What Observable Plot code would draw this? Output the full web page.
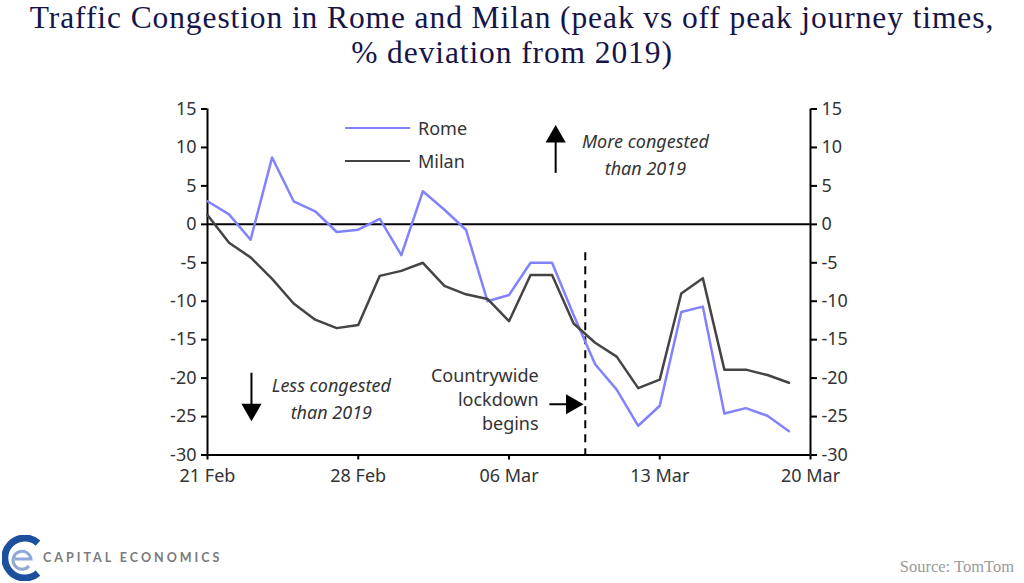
<!DOCTYPE html>
<html>
<head>
<meta charset="utf-8">
<script src="https://cdn.jsdelivr.net/npm/d3@7"></script>
<script src="https://cdn.jsdelivr.net/npm/@observablehq/plot@0.6"></script>
<style>
  html, body { margin: 0; padding: 0; background: #fff; }
  #wrap { position: relative; width: 1024px; height: 583px; overflow: hidden; background: #fff; }
  #title { position: absolute; left: 0; top: 0; width: 1024px; text-align: center;
    font-family: "Liberation Serif", serif; font-size: 31.5px; letter-spacing: 0.9px; line-height: 35px; color: #15154a; padding-top: 0px; }
  #chart { position: absolute; left: 0; top: 90px; }
  #legend { position: absolute; left: 345px; top: 111px; font-family: "Noto Sans", sans-serif; font-size: 18px; color: #333; }
  #legend div { display: flex; align-items: center; height: 33px; }
  #legend span.sw { display: inline-block; width: 65px; height: 0; border-top: 2.5px solid; margin-right: 8px; }
  #source { position: absolute; right: 10px; top: 557px; font-family: "Liberation Serif", serif; font-size: 16.5px; color: #9a9a9a; }
  #logo { position: absolute; left: 2px; top: 535px; }
</style>
</head>
<body>
<div id="wrap">
  <div id="title">Traffic Congestion in Rome and Milan (peak vs off peak journey times,<br>% deviation from 2019)</div>
  <div id="chart"></div>
  <div id="legend"></div>
  <svg id="logo" width="240" height="46" viewBox="0 0 240 46">
    <path d="M36,8 A20,20 0 1 0 36,38" fill="none" stroke="#1d4f9f" stroke-width="7"/>
    <path d="M13,24 L29,24 A9,9 0 1 0 27,31" fill="none" stroke="#8fa8d8" stroke-width="3"/>
    <text x="41" y="27" font-family="Lato, sans-serif" font-size="12.5" font-weight="bold" fill="#7a7a7a" letter-spacing="3.0">CAPITAL ECONOMICS</text>
  </svg>
  <div id="source">Source: TomTom</div>
</div>
<script>
const dates = [
  "2020-02-21","2020-02-22","2020-02-23","2020-02-24","2020-02-25","2020-02-26","2020-02-27",
  "2020-02-28","2020-02-29","2020-03-01","2020-03-02","2020-03-03","2020-03-04","2020-03-05",
  "2020-03-06","2020-03-07","2020-03-08","2020-03-09","2020-03-10","2020-03-11","2020-03-12",
  "2020-03-13","2020-03-14","2020-03-15","2020-03-16","2020-03-17","2020-03-18","2020-03-19"
];
const rome = [3.0, 1.3, -2.0, 8.7, 3.0, 1.7, -1.0, -0.7, 0.7, -4.0, 4.3, 1.9, -0.7, -10.0,
  -9.2, -5.0, -5.0, -11.8, -18.2, -21.5, -26.2, -23.6, -11.4, -10.7, -24.6, -23.9, -24.9, -26.9];
const milan = [1.2, -2.4, -4.3, -7.1, -10.3, -12.4, -13.5, -13.1, -6.7, -6.05, -5.0, -8.0, -9.1, -9.7,
  -12.6, -6.6, -6.6, -12.9, -15.4, -17.2, -21.3, -20.2, -9.0, -7.0, -18.9, -18.9, -19.6, -20.6];
const seriesNames = ["Rome", "Milan"];
const seriesColors = ["#8282ff", "#444444"];
const yTicks = [15, 10, 5, 0, -5, -10, -15, -20, -25, -30];
const xTicks = ["2020-02-21", "2020-02-28", "2020-03-06", "2020-03-13", "2020-03-20"];
const xDomain = ["2020-02-21", "2020-03-20"];
const lockdownDate = "2020-03-09T13:00Z";
const annotations = [
  {x: "2020-03-12T08:00Z", y: 9.3, text: "More congested\nthan 2019", italic: true},
  {x: "2020-02-26T18:00Z", y: -22.5, text: "Less congested\nthan 2019", italic: true},
  {x: "2020-03-07T09:00Z", y: -22.6, text: "Countrywide\nlockdown\nbegins", italic: false}
];
const arrowShafts = [
  {x1: "2020-03-08T04:00Z", y1: 6.7, x2: "2020-03-08T04:00Z", y2: 11.3},
  {x1: "2020-02-23T01:00Z", y1: -19.3, x2: "2020-02-23T01:00Z", y2: -24.1},
  {x1: "2020-03-07T21:00Z", y1: -23.4, x2: "2020-03-08T22:00Z", y2: -23.4}
];
const arrowHeads = [
  {x: "2020-03-08T04:00Z", y: 11.4, rotate: 0},
  {x: "2020-02-23T01:00Z", y: -24.1, rotate: 180},
  {x: "2020-03-08T22:00Z", y: -23.4, rotate: 90}
];

const D = s => new Date(s);
const data = [];
dates.forEach((d, i) => {
  data.push({date: D(d), value: rome[i], city: "Rome"});
  data.push({date: D(d), value: milan[i], city: "Milan"});
});

const chart = Plot.plot({
  width: 1024,
  height: 493,
  marginTop: 18.5,
  marginBottom: 128.5,
  marginLeft: 207,
  marginRight: 214,
  style: {fontFamily: "'Noto Sans', sans-serif", fontSize: "18px", color: "#333", background: "white", overflow: "visible"},
  x: {type: "utc", domain: xDomain.map(D)},
  y: {domain: [-30, 15]},
  color: {domain: seriesNames, range: seriesColors},
  marks: [
    Plot.axisY({anchor: "left", ticks: yTicks, tickSize: 6, tickPadding: 5, strokeWidth: 2, stroke: "#000", tickFormat: d => String(d), label: null}),
    Plot.axisY({anchor: "right", ticks: yTicks, tickSize: 6, tickPadding: 5, strokeWidth: 2, stroke: "#000", tickFormat: d => String(d), label: null}),
    Plot.axisX({ticks: xTicks.map(D), tickSize: 5, tickPadding: 9, strokeWidth: 2, stroke: "#000", tickFormat: d3.utcFormat("%d %b"), label: null}),
    Plot.ruleX(xDomain.map(D), {stroke: "#000", strokeWidth: 2}),
    Plot.ruleY([-30], {stroke: "#000", strokeWidth: 2}),
    Plot.ruleY([0], {stroke: "#000", strokeWidth: 2}),
    Plot.ruleX([D(lockdownDate)], {y1: -3.7, y2: -30, stroke: "#000", strokeWidth: 2, strokeDasharray: "8,6"}),
    Plot.line(data, {x: "date", y: "value", z: "city", stroke: "city", strokeWidth: 2.5}),
    Plot.link(arrowShafts, {x1: d => D(d.x1), y1: "y1", x2: d => D(d.x2), y2: "y2", stroke: "#000", strokeWidth: 2}),
    Plot.dot(arrowHeads, {x: d => D(d.x), y: "y", rotate: "rotate", symbol: "triangle", r: 7.5, fill: "#000", stroke: "none"}),
    Plot.text(annotations.filter(a => a.italic), {x: d => D(d.x), y: "y", text: "text", textAnchor: "middle", lineHeight: 1.5, fontStyle: "italic", fontSize: 18, fill: "#333"}),
    Plot.text(annotations.filter(a => !a.italic), {x: d => D(d.x), y: "y", text: "text", textAnchor: "end", lineHeight: 1.35, fontSize: 18, fill: "#333"})
  ]
});
document.getElementById("chart").appendChild(chart);

const legend = document.getElementById("legend");
seriesNames.forEach((n, i) => {
  const row = document.createElement("div");
  const sw = document.createElement("span");
  sw.className = "sw";
  sw.style.borderTopColor = seriesColors[i];
  row.appendChild(sw);
  row.appendChild(document.createTextNode(n));
  legend.appendChild(row);
});
</script>
</body>
</html>
